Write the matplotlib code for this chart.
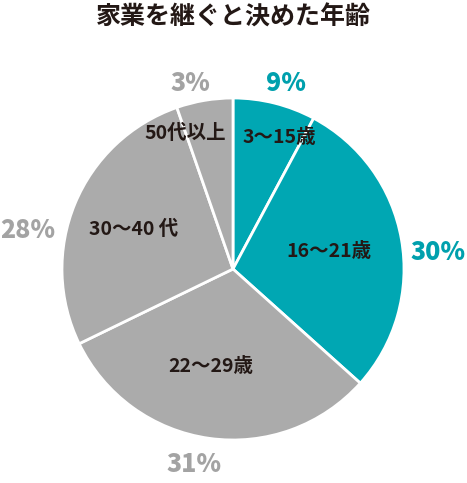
import matplotlib

matplotlib.use("Agg")
import matplotlib.pyplot as plt

plt.rcParams["font.family"] = ["Noto Sans CJK JP", "DejaVu Sans"]

TITLE = "家業を継ぐと決めた年齢"
CATEGORIES = ["3～15歳", "16～21歳", "22～29歳", "30～40 代", "50代以上"]
# shares as drawn in the picture (degrees)
SHARES = [28.2, 103.9, 112.4, 96.9, 19.2]
PCT_LABELS = ["9%", "30%", "31%", "28%", "3%"]

TEAL = "#00A7B3"
GRAY = "#ABABAB"
COLORS = [TEAL, TEAL, GRAY, GRAY, GRAY]
PCT_COLORS = ["#00A0AD", "#00A0AD", "#A3A3A3", "#A3A3A3", "#A3A3A3"]
TEXT = "#231815"

# label positions in axis units (pie radius = 1)
CAT_POS = [(0.27, 0.77), (0.56, 0.10), (-0.13, -0.57), (-0.58, 0.23), (-0.28, 0.79)]
PCT_POS = [(0.31, 1.09), (1.20, 0.10), (-0.23, -1.14), (-1.20, 0.23), (-0.25, 1.09)]

W, H = 467, 483
fig = plt.figure(figsize=(W / 100, H / 100), dpi=100)
ax = fig.add_axes([62 / W, 43 / H, 342 / W, 342 / H])
ax.pie(SHARES, colors=COLORS, startangle=90, counterclock=False, radius=1.0,
       wedgeprops=dict(edgecolor="white", linewidth=2))
ax.set_xlim(-1, 1)
ax.set_ylim(-1, 1)
ax.set_aspect("equal")
ax.axis("off")

for name, (x, y) in zip(CATEGORIES, CAT_POS):
    ax.text(x, y, name, ha="center", va="center", fontsize=14, fontweight="bold", color=TEXT)
for lab, (x, y), c in zip(PCT_LABELS, PCT_POS, PCT_COLORS):
    ax.text(x, y, lab, ha="center", va="center", fontsize=18, fontweight="heavy", color=c, clip_on=False)

fig.text(233 / W, 1 - 18 / H, TITLE, ha="center", va="center", fontsize=18, fontweight="bold", color=TEXT)

fig.savefig("out.png", dpi=100)
